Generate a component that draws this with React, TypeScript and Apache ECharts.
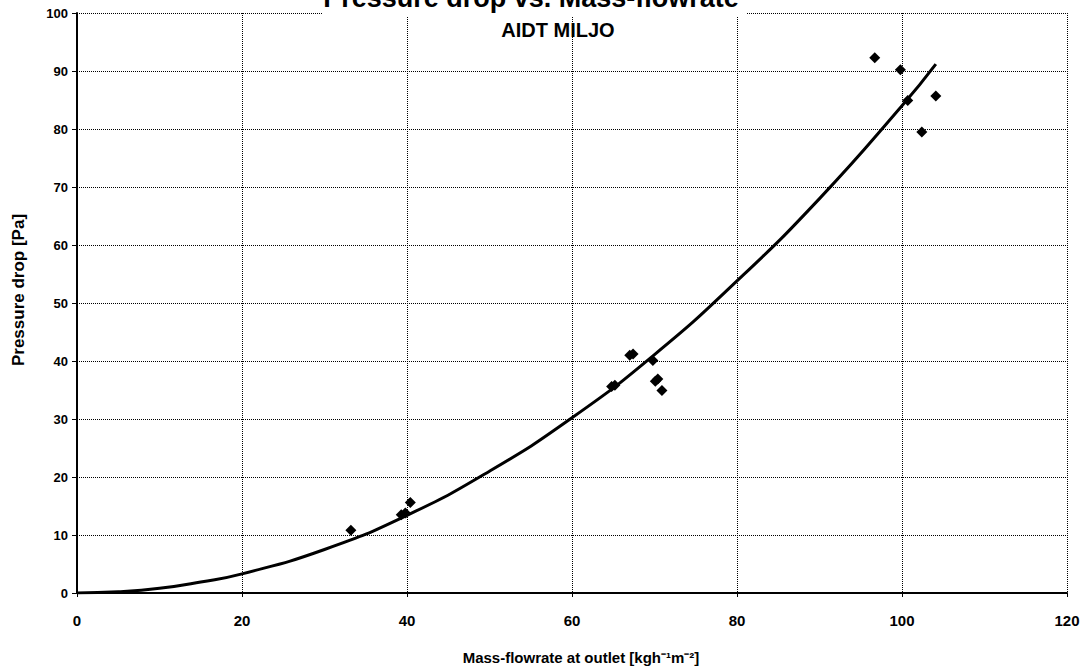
import React, { useEffect, useRef } from "react";
import * as echarts from "echarts";

const measuredX = [33.2, 39.3, 39.8, 40.4, 64.8, 65.2, 67.0, 67.4, 69.8, 70.1, 70.4, 70.9, 96.7, 99.8, 100.7, 102.4, 104.1];
const measuredY = [10.8, 13.5, 13.8, 15.6, 35.6, 35.8, 41.0, 41.2, 40.1, 36.5, 36.9, 34.9, 92.3, 90.2, 84.9, 79.5, 85.7];

const trendX = [0, 5, 10, 15, 20, 30, 40, 50, 60, 70, 80, 90, 100, 104.1];
const trendY = [0, 0.2, 0.8, 1.9, 3.3, 7.5, 13.4, 21.0, 30.2, 41.1, 53.8, 68.0, 84.0, 91.2];

const xTicks = [0, 20, 40, 60, 80, 100, 120];
const yTicks = [0, 10, 20, 30, 40, 50, 60, 70, 80, 90, 100];

const titleText = "Pressure drop vs. Mass-flowrate";
const subtitleText = "AIDT MILJO";
const xName = "Mass-flowrate at outlet [kgh⁻¹m⁻²]";
const yName = "Pressure drop [Pa]";

export default function App() {
  const ref = useRef<HTMLDivElement>(null);
  useEffect(() => {
    if (!ref.current) return;
    const chart = echarts.init(ref.current, undefined, { renderer: "svg" });
    const points = measuredX.map((x, i) => [x, measuredY[i]]);
    const trend = trendX.map((x, i) => [x, trendY[i]]);
    const font = "'Liberation Sans', Arial, sans-serif";
    chart.setOption({
      animation: false,
      backgroundColor: "#fff",
      grid: { left: 77, right: 17, top: 13, bottom: 78, containLabel: false },
      xAxis: {
        type: "value",
        min: xTicks[0],
        max: xTicks[xTicks.length - 1],
        interval: 20,
        name: xName,
        nameLocation: "middle",
        nameGap: 57,
        nameTextStyle: { fontFamily: font, fontWeight: "bold", fontSize: 15, color: "#000", padding: [0, 0, 0, 18] },
        axisLine: { show: true, lineStyle: { color: "#000", width: 2 } },
        axisTick: { show: true, length: 4, lineStyle: { color: "#000" } },
        axisLabel: { fontFamily: font, fontWeight: "bold", fontSize: 15, color: "#000", margin: 20 },
        splitLine: { show: true, lineStyle: { color: "#000", type: "dotted", width: 1 } },
      },
      yAxis: {
        type: "value",
        min: yTicks[0],
        max: yTicks[yTicks.length - 1],
        interval: 10,
        axisLine: { show: true, lineStyle: { color: "#000", width: 2 } },
        axisTick: { show: true, length: 5, lineStyle: { color: "#000" } },
        axisLabel: { fontFamily: font, fontWeight: "bold", fontSize: 13, color: "#000", margin: 9 },
        splitLine: { show: true, lineStyle: { color: "#000", type: "dotted", width: 1 } },
      },
      graphic: [
        { type: "rect", shape: { x: 322, y: 0, width: 424, height: 16 }, style: { fill: "#fff" }, z: 100 },
        {
          type: "text",
          x: 531,
          y: -2,
          style: {
            text: titleText,
            fontFamily: font,
            fontWeight: "bold",
            fontSize: 27,
            fill: "#000",
            align: "center",
            verticalAlign: "middle",
          },
          z: 101,
        },
        {
          type: "text",
          x: 558,
          y: 30,
          style: {
            text: subtitleText,
            fontFamily: font,
            fontWeight: "bold",
            fontSize: 20,
            fill: "#000",
            align: "center",
            verticalAlign: "middle",
          },
          z: 101,
        },
        {
          type: "text",
          x: 18,
          y: 290,
          rotation: Math.PI / 2,
          style: {
            text: yName,
            fontFamily: font,
            fontWeight: "bold",
            fontSize: 17,
            fill: "#000",
            align: "center",
            verticalAlign: "middle",
          },
          z: 101,
        },
      ],
      series: [
        {
          type: "line",
          data: trend,
          smooth: true,
          showSymbol: false,
          symbol: "none",
          lineStyle: { color: "#000", width: 3 },
          z: 3,
        },
        {
          type: "scatter",
          data: points,
          symbol: "diamond",
          symbolSize: 11,
          itemStyle: { color: "#000", opacity: 1 },
          z: 4,
        },
      ],
    });
    return () => chart.dispose();
  }, []);
  return <div ref={ref} style={{ position: "fixed", left: 0, top: 0, width: 1084, height: 671 }} />;
}
